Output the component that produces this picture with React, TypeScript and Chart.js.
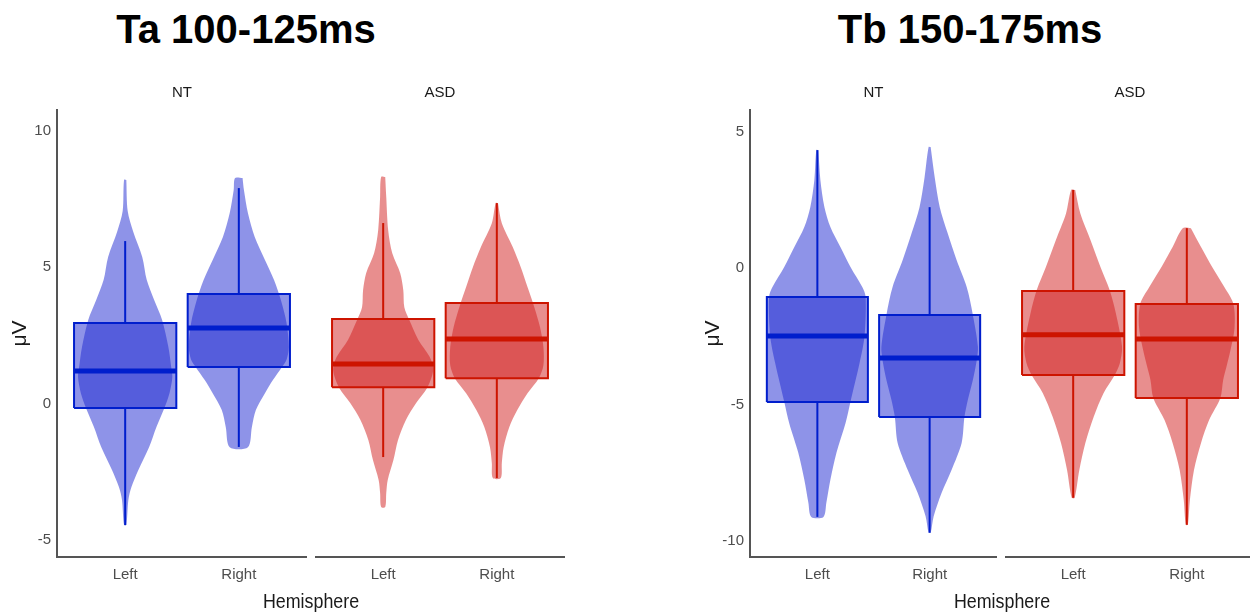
import React, { useEffect, useRef } from 'react';
import { Chart, registerables } from 'chart.js';

Chart.register(...registerables);

const FONT = "'Liberation Sans', Arial, sans-serif";
const TITLE_FONT = "'Liberation Sans', Arial, sans-serif";

const hemispheres = ['Left', 'Right'];
const groups = ['NT', 'ASD'];
const panelTitles = ['Ta 100-125ms', 'Tb 150-175ms'];
const xAxisTitle = 'Hemisphere';
const yAxisTitle = 'μV';

const yTicksA = [-5, 0, 5, 10];
const yTicksB = [-10, -5, 0, 5];
const yRangeA = [-5.62, 10.75];
const yRangeB = [-10.59, 5.79];

// box statistics: [lower whisker, Q1, median, Q3, upper whisker]
const boxA_NT_Left = [-4.45, -0.16, 1.19, 2.95, 5.95];
const boxA_NT_Right = [-1.59, 1.34, 2.77, 4.01, 7.89];
const boxA_ASD_Left = [-1.96, 0.6, 1.45, 3.1, 6.61];
const boxA_ASD_Right = [-2.73, 0.93, 2.36, 3.68, 7.34];
const boxB_NT_Left = [-9.12, -4.91, -2.49, -1.06, 4.32];
const boxB_NT_Right = [-9.7, -5.46, -3.3, -1.72, 2.23];
const boxB_ASD_Left = [-8.42, -3.92, -2.45, -0.84, 2.86];
const boxB_ASD_Right = [-9.41, -4.76, -2.6, -1.32, 1.46];

// violin outlines: values (µV) and half-widths (in category units)
const vioA_NT_Left_y = [8.19, 7.05, 6.3, 5.37, 4.52, 3.79, 3.06, 2.07, 1.34, 0.97, 0.38, -0.16, -0.86, -1.6, -2.44, -3.06, -3.53, -4.45];
const vioA_NT_Left_w = [0.01, 0.022, 0.07, 0.15, 0.19, 0.255, 0.325, 0.38, 0.405, 0.415, 0.39, 0.345, 0.275, 0.21, 0.115, 0.055, 0.028, 0.01];
const vioA_NT_Right_y = [8.26, 7.82, 6.98, 6.1, 5.26, 4.52, 3.79, 2.95, 2.07, 1.6, 1.34, 0.86, 0.38, -0.24, -0.86, -1.6];
const vioA_NT_Right_w = [0.033, 0.045, 0.08, 0.14, 0.23, 0.31, 0.37, 0.42, 0.44, 0.42, 0.38, 0.3, 0.23, 0.15, 0.115, 0.08];
const vioA_ASD_Left_y = [8.3, 7.56, 6.35, 5.5, 4.77, 4.15, 3.53, 3.06, 2.33, 1.7, 1.23, 0.6, 0.02, -0.6, -1.34, -2.07, -2.8, -3.28, -3.79];
const vioA_ASD_Left_w = [0.018, 0.027, 0.044, 0.08, 0.15, 0.177, 0.186, 0.23, 0.31, 0.41, 0.44, 0.39, 0.29, 0.2, 0.13, 0.09, 0.04, 0.027, 0.018];
const vioA_ASD_Right_y = [7.34, 6.6, 5.73, 5.0, 4.27, 3.53, 2.8, 2.07, 1.4, 0.93, 0.38, -0.24, -0.86, -1.6, -2.18, -2.73];
const vioA_ASD_Right_w = [0.01, 0.044, 0.14, 0.21, 0.27, 0.33, 0.38, 0.41, 0.41, 0.37, 0.27, 0.18, 0.11, 0.06, 0.044, 0.035];
const vioB_NT_Left_y = [4.32, 3.22, 2.23, 1.5, 0.77, 0.04, -0.7, -1.06, -2.5, -3.5, -4.9, -5.7, -6.77, -7.76, -8.6, -9.12];
const vioB_NT_Left_w = [0.009, 0.027, 0.063, 0.116, 0.205, 0.295, 0.4, 0.43, 0.42, 0.375, 0.295, 0.25, 0.17, 0.116, 0.08, 0.054];
const vioB_NT_Right_y = [4.43, 3.33, 2.23, 1.28, 0.29, -0.7, -1.72, -2.89, -3.37, -4.1, -4.84, -5.46, -6.41, -7.4, -8.24, -9.1, -9.7];
const vioB_NT_Right_w = [0.009, 0.045, 0.09, 0.16, 0.24, 0.33, 0.385, 0.43, 0.42, 0.385, 0.34, 0.31, 0.285, 0.195, 0.107, 0.036, 0.009];
const vioB_ASD_Left_y = [2.86, 2.0, 1.03, 0.04, -0.8, -1.65, -2.89, -3.5, -3.92, -4.58, -5.46, -6.41, -7.4, -8.42];
const vioB_ASD_Left_w = [0.018, 0.063, 0.152, 0.24, 0.32, 0.375, 0.43, 0.41, 0.366, 0.268, 0.18, 0.107, 0.054, 0.013];
const vioB_ASD_Right_y = [1.46, 0.77, 0.04, -0.7, -1.32, -2.2, -3.0, -3.6, -4.1, -4.76, -5.57, -6.41, -7.4, -8.5, -9.41];
const vioB_ASD_Right_w = [0.036, 0.125, 0.223, 0.33, 0.41, 0.42, 0.385, 0.35, 0.32, 0.295, 0.196, 0.125, 0.063, 0.027, 0.009];

const BOX_HALF = 0.45;

const palettes = {
  NT: { fill: 'rgba(30,40,210,0.5)', line: 'rgb(0,30,205)' },
  ASD: { fill: 'rgba(210,30,30,0.5)', line: 'rgb(205,20,0)' },
};

type Pt = { x: number; y: number };

function violinPolygon(c: number, ys: number[], ws: number[]): Pt[] {
  const pts: Pt[] = [];
  for (let i = 0; i < ys.length; i++) pts.push({ x: c + ws[i], y: ys[i] });
  for (let i = ys.length - 1; i >= 0; i--) pts.push({ x: c - ws[i], y: ys[i] });
  pts.push({ x: c + ws[0], y: ys[0] });
  return pts;
}

function boxPolygon(c: number, s: number[]): Pt[] {
  return [
    { x: c - BOX_HALF, y: s[1] },
    { x: c + BOX_HALF, y: s[1] },
    { x: c + BOX_HALF, y: s[3] },
    { x: c - BOX_HALF, y: s[3] },
    { x: c - BOX_HALF, y: s[1] },
  ];
}

type FacetProps = {
  left: number;
  width: number;
  group: 'NT' | 'ASD';
  showY: boolean;
  yRange: number[];
  yTicks: number[];
  boxes: number[][];
  violins: number[][][];
};

function Facet({ left, width, group, showY, yRange, yTicks, boxes, violins }: FacetProps) {
  const ref = useRef<HTMLCanvasElement | null>(null);
  useEffect(() => {
    if (!ref.current) return;
    const pal = palettes[group];
    const datasets: any[] = [];
    boxes.forEach((s, i) => {
      const c = i + 1;
      const [vy, vw] = violins[i];
      datasets.push({
        data: violinPolygon(c, vy, vw),
        fill: 'shape',
        backgroundColor: pal.fill,
        borderWidth: 0,
        pointRadius: 0,
        tension: 0.3,
        order: 10,
      });
      datasets.push({
        data: boxPolygon(c, s),
        fill: 'shape',
        backgroundColor: pal.fill,
        borderColor: pal.line,
        borderWidth: 2,
        borderJoinStyle: 'miter',
        pointRadius: 0,
        tension: 0,
        order: 5,
      });
      datasets.push({
        data: [{ x: c, y: s[3] }, { x: c, y: s[4] }],
        borderColor: pal.line,
        borderWidth: 2,
        pointRadius: 0,
        fill: false,
        order: 4,
      });
      datasets.push({
        data: [{ x: c, y: s[0] }, { x: c, y: s[1] }],
        borderColor: pal.line,
        borderWidth: 2,
        pointRadius: 0,
        fill: false,
        order: 4,
      });
      datasets.push({
        data: [{ x: c - BOX_HALF, y: s[2] }, { x: c + BOX_HALF, y: s[2] }],
        borderColor: pal.line,
        borderWidth: 5,
        borderCapStyle: 'butt',
        pointRadius: 0,
        fill: false,
        order: 1,
      });
    });

    const chart = new Chart(ref.current, {
      type: 'line',
      data: { datasets },
      options: {
        responsive: false,
        animation: false,
        devicePixelRatio: 1,
        events: [],
        layout: { padding: 0 },
        plugins: {
          legend: { display: false },
          tooltip: { enabled: false },
          title: {
            display: true,
            text: group,
            fullSize: false,
            color: '#1a1a1a',
            font: { family: FONT, size: 15, weight: 'normal' },
            padding: { top: 4, bottom: 8 },
          },
        },
        scales: {
          x: {
            type: 'linear',
            min: 0.4,
            max: 2.6,
            grid: { display: false, drawTicks: false },
            border: { display: true, color: '#555', width: 2 },
            afterBuildTicks: (s: any) => {
              s.ticks = hemispheres.map((_, i) => ({ value: i + 1 }));
            },
            afterFit: (s: any) => {
              s.height = 43;
            },
            ticks: {
              autoSkip: false,
              maxRotation: 0,
              color: '#4d4d4d',
              font: { family: FONT, size: 15 },
              padding: 9,
              callback: (v: any) => hemispheres[Math.round(Number(v)) - 1],
            },
          },
          y: {
            type: 'linear',
            display: showY,
            min: yRange[0],
            max: yRange[1],
            grid: { display: false, drawTicks: false },
            border: { display: true, color: '#555', width: 2 },
            afterBuildTicks: (s: any) => {
              s.ticks = yTicks.map((v) => ({ value: v }));
            },
            afterFit: (s: any) => {
              s.width = showY ? 57 : 0;
            },
            ticks: {
              color: '#4d4d4d',
              font: { family: FONT, size: 15 },
              padding: 6,
            },
            title: {
              display: true,
              text: yAxisTitle,
              color: '#1a1a1a',
              font: { family: FONT, size: 21 },
              padding: { top: 7.4, bottom: 0 },
            },
          },
        },
      } as any,
    });
    return () => chart.destroy();
  }, []);
  return (
    <canvas
      ref={ref}
      width={width}
      height={520}
      style={{ position: 'absolute', left, top: 80, width, height: 520 }}
    />
  );
}

function PanelTitle({ text, cx }: { text: string; cx: number }) {
  return (
    <div
      style={{
        position: 'absolute',
        left: cx - 250,
        width: 500,
        top: 8,
        height: 42,
        lineHeight: '42px',
        textAlign: 'center',
        fontFamily: TITLE_FONT,
        fontWeight: 'bold',
        fontSize: 40,
        color: '#000',
        whiteSpace: 'nowrap',
      }}
    >
      {text}
    </div>
  );
}

function XTitle({ cx }: { cx: number }) {
  return (
    <div
      style={{
        position: 'absolute',
        left: cx - 100,
        width: 200,
        top: 589,
        height: 24,
        lineHeight: '24px',
        textAlign: 'center',
        fontFamily: FONT,
        fontSize: 21,
        color: '#1a1a1a',
        whiteSpace: 'nowrap',
        transform: 'scaleX(0.85)',
        transformOrigin: 'center',
      }}
    >
      {xAxisTitle}
    </div>
  );
}

export default function App() {
  return (
    <div
      style={{
        position: 'absolute',
        left: 0,
        top: 0,
        width: 1250,
        height: 615,
        overflow: 'hidden',
        background: '#fff',
      }}
    >
      <PanelTitle text={panelTitles[0]} cx={246} />
      <PanelTitle text={panelTitles[1]} cx={970} />
      <Facet
        left={0}
        width={307}
        group={groups[0] as 'NT'}
        showY={true}
        yRange={yRangeA}
        yTicks={yTicksA}
        boxes={[boxA_NT_Left, boxA_NT_Right]}
        violins={[[vioA_NT_Left_y, vioA_NT_Left_w], [vioA_NT_Right_y, vioA_NT_Right_w]]}
      />
      <Facet
        left={315}
        width={250}
        group={groups[1] as 'ASD'}
        showY={false}
        yRange={yRangeA}
        yTicks={yTicksA}
        boxes={[boxA_ASD_Left, boxA_ASD_Right]}
        violins={[[vioA_ASD_Left_y, vioA_ASD_Left_w], [vioA_ASD_Right_y, vioA_ASD_Right_w]]}
      />
      <Facet
        left={693}
        width={304}
        group={groups[0] as 'NT'}
        showY={true}
        yRange={yRangeB}
        yTicks={yTicksB}
        boxes={[boxB_NT_Left, boxB_NT_Right]}
        violins={[[vioB_NT_Left_y, vioB_NT_Left_w], [vioB_NT_Right_y, vioB_NT_Right_w]]}
      />
      <Facet
        left={1005}
        width={250}
        group={groups[1] as 'ASD'}
        showY={false}
        yRange={yRangeB}
        yTicks={yTicksB}
        boxes={[boxB_ASD_Left, boxB_ASD_Right]}
        violins={[[vioB_ASD_Left_y, vioB_ASD_Left_w], [vioB_ASD_Right_y, vioB_ASD_Right_w]]}
      />
      <XTitle cx={311} />
      <XTitle cx={1002} />
    </div>
  );
}
